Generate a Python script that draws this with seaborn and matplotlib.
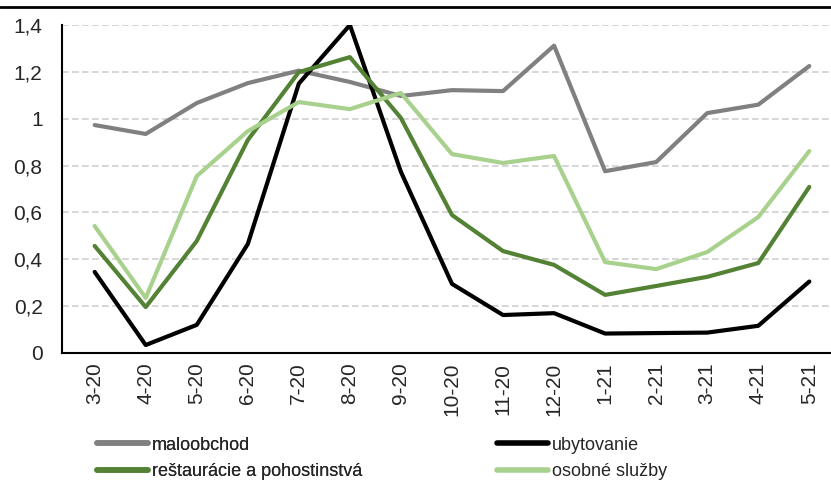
import pandas as pd
import matplotlib.pyplot as plt
import matplotlib.lines as mlines
import seaborn as sns

months = ["3-20", "4-20", "5-20", "6-20", "7-20", "8-20", "9-20", "10-20",
          "11-20", "12-20", "1-21", "2-21", "3-21", "4-21", "5-21"]
maloobchod = [0.973, 0.935, 1.067, 1.152, 1.205, 1.157, 1.097, 1.122,
              1.118, 1.312, 0.776, 0.815, 1.024, 1.060, 1.225]
ubytovanie = [0.346, 0.034, 0.120, 0.465, 1.150, 1.400, 0.773, 0.295,
              0.162, 0.170, 0.083, 0.085, 0.087, 0.116, 0.305]
restauracie = [0.457, 0.196, 0.478, 0.909, 1.199, 1.263, 1.003, 0.589,
               0.435, 0.376, 0.248, 0.286, 0.325, 0.384, 0.709]
osobne = [0.542, 0.235, 0.755, 0.947, 1.071, 1.041, 1.110, 0.849,
          0.811, 0.841, 0.388, 0.358, 0.431, 0.580, 0.862]

series_names = ["maloobchod", "ubytovanie", "reštaurácie a pohostinstvá", "osobné služby"]
colors = ["#808080", "#000000", "#548235", "#A9D18E"]

frames = []
for name, vals in zip(series_names, [maloobchod, ubytovanie, restauracie, osobne]):
    frames.append(pd.DataFrame({"x": range(len(months)), "y": vals, "s": name}))
df = pd.concat(frames)

sns.set_style("white")
plt.rcParams['font.family'] = ['Liberation Sans Narrow', 'Liberation Sans', 'DejaVu Sans']

fig = plt.figure(figsize=(8.31, 4.84), dpi=100)
ax = fig.add_axes([0.0746, 0.2707, 0.93, 0.6776])

sns.lineplot(data=df, x="x", y="y", hue="s", hue_order=series_names,
             palette=colors, linewidth=3, ax=ax, legend=False)

ax.set_ylim(0, 1.4)
ax.set_xlim(-0.64, 14.5)
yt = [0, 0.2, 0.4, 0.6, 0.8, 1.0, 1.2, 1.4]
ax.set_yticks(yt)
ax.set_yticklabels(["0", "0,2", "0,4", "0,6", "0,8", "1", "1,2", "1,4"], fontsize=15)
ax.set_xticks(range(len(months)))
ax.set_xticklabels(months, rotation=90, fontsize=15)
ax.tick_params(axis="both", length=0)
ax.tick_params(axis="x", pad=7)
ax.tick_params(axis="y", pad=14)
ax.set_xlabel("")
ax.set_ylabel("")
ax.yaxis.grid(True, color="#d0d0d0", linestyle=(0, (4, 2)), linewidth=1.2)
ax.set_axisbelow(True)
for side in ["top", "right"]:
    ax.spines[side].set_visible(False)
for side in ["left", "bottom"]:
    ax.spines[side].set_color("black")
    ax.spines[side].set_linewidth(1.5)

# legend: two separate columns, rows go across
handles = [mlines.Line2D([], [], color=c, linewidth=4) for c in colors]
leg_kw = dict(loc="upper left", frameon=False, fontsize=13, handlelength=2.8,
              handletextpad=0.22, labelspacing=0.55, borderpad=0, borderaxespad=0)
leg1 = fig.legend([handles[0], handles[2]], [series_names[0], series_names[2]],
                  bbox_to_anchor=(97 / 831, 0.098), **leg_kw)
fig.add_artist(leg1)
fig.legend([handles[1], handles[3]], [series_names[1], series_names[3]],
           bbox_to_anchor=(497 / 831, 0.098), **leg_kw)

fig.add_artist(mlines.Line2D([0, 1], [0.986, 0.986], color="black", linewidth=2,
                             transform=fig.transFigure))

fig.savefig("out.png", dpi=100)
